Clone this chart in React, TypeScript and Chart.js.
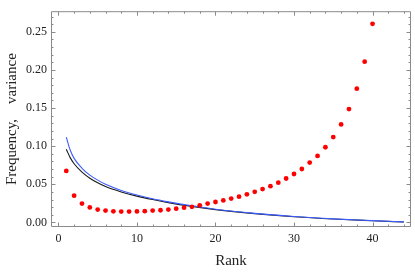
import { useEffect, useRef } from 'react';
import { Chart, registerables } from 'chart.js';

Chart.register(...registerables);

const ranks = [1, 2, 3, 4, 5, 6, 7, 8, 9, 10, 11, 12, 13, 14, 15, 16, 17, 18, 19, 20, 21, 22, 23, 24, 25, 26, 27, 28, 29, 30, 31, 32, 33, 34, 35, 36, 37, 38, 39, 40];
const varianceValues = [0.0676, 0.0351, 0.0247, 0.0197, 0.0168, 0.0155, 0.0145, 0.0143, 0.0143, 0.0144, 0.0147, 0.0155, 0.016, 0.0168, 0.018, 0.0193, 0.0205, 0.0225, 0.0247, 0.0268, 0.0288, 0.0313, 0.0338, 0.0368, 0.0401, 0.0438, 0.0476, 0.0522, 0.0576, 0.0635, 0.0701, 0.0785, 0.0873, 0.0986, 0.112, 0.1286, 0.1487, 0.1754, 0.2109, 0.2605];

const curveRanks = [1, 1.5, 2, 3, 4, 5, 6, 8, 10, 12, 14, 17, 20, 25, 30, 35, 40, 44];
const blackCurve = [0.096, 0.085, 0.077, 0.066, 0.058, 0.052, 0.047, 0.040, 0.0345, 0.030, 0.026, 0.021, 0.0168, 0.0115, 0.0075, 0.0045, 0.0022, 0.0005];
const blueCurve = [0.112, 0.095, 0.084, 0.071, 0.062, 0.0555, 0.050, 0.042, 0.036, 0.031, 0.027, 0.0218, 0.0173, 0.0119, 0.0078, 0.0047, 0.0024, 0.0007];

const xTicks = [0, 10, 20, 30, 40];
const xMinorTicks = [2, 4, 6, 8, 12, 14, 16, 18, 22, 24, 26, 28, 32, 34, 36, 38, 42, 44];
const yTicks = [0, 0.05, 0.1, 0.15, 0.2, 0.25];
const yMinorTicks = [0.01, 0.02, 0.03, 0.04, 0.06, 0.07, 0.08, 0.09, 0.11, 0.12, 0.13, 0.14, 0.16, 0.17, 0.18, 0.19, 0.21, 0.22, 0.23, 0.24, 0.26, 0.27];

const FONT = "'Liberation Serif', 'DejaVu Serif', serif";

const framePlugin = {
  id: 'mmaFrame',
  afterDatasetsDraw(chart: any) {
    const { ctx, chartArea, scales } = chart;
    const { left, right, top, bottom } = chartArea;
    const xs = scales.x;
    const ys = scales.y;
    ctx.save();
    ctx.strokeStyle = '#8a8a8a';
    ctx.lineWidth = 1;
    ctx.beginPath();
    ctx.rect(left + 0.5, top + 0.5, right - left - 1, bottom - top - 1);
    ctx.stroke();
    ctx.beginPath();
    const vt = (v: number, len: number) => {
      const p = Math.round(xs.getPixelForValue(v)) + 0.5;
      ctx.moveTo(p, bottom - 0.5);
      ctx.lineTo(p, bottom - 0.5 - len);
      ctx.moveTo(p, top + 0.5);
      ctx.lineTo(p, top + 0.5 + len);
    };
    const ht = (v: number, len: number) => {
      const p = Math.round(ys.getPixelForValue(v)) + 0.5;
      ctx.moveTo(left + 0.5, p);
      ctx.lineTo(left + 0.5 + len, p);
      ctx.moveTo(right - 0.5, p);
      ctx.lineTo(right - 0.5 - len, p);
    };
    xTicks.forEach((v) => vt(v, 4));
    xMinorTicks.forEach((v) => vt(v, 2));
    yTicks.forEach((v) => ht(v, 4));
    yMinorTicks.forEach((v) => ht(v, 2));
    ctx.stroke();
    ctx.restore();
  },
};

export default function App() {
  const ref = useRef<HTMLCanvasElement | null>(null);
  useEffect(() => {
    if (!ref.current) return;
    const chart = new Chart(ref.current, {
      type: 'scatter',
      data: {
        datasets: [
          {
            type: 'line',
            label: 'black',
            data: curveRanks.map((r, i) => ({ x: r, y: blackCurve[i] })),
            borderColor: '#1a1a1a',
            borderWidth: 1.1,
            pointRadius: 0,
            cubicInterpolationMode: 'monotone',
            fill: false,
            order: 2,
          },
          {
            type: 'line',
            label: 'blue',
            data: curveRanks.map((r, i) => ({ x: r, y: blueCurve[i] })),
            borderColor: '#3d5cff',
            borderWidth: 1.1,
            pointRadius: 0,
            cubicInterpolationMode: 'monotone',
            fill: false,
            order: 1,
          },
          {
            label: 'variance',
            data: ranks.map((r, i) => ({ x: r, y: varianceValues[i] })),
            backgroundColor: '#ff0000',
            borderWidth: 0,
            pointRadius: 2.4,
            order: 0,
          },
        ],
      } as any,
      options: {
        animation: false,
        responsive: false,
        events: [],
        layout: { padding: { top: 1, right: 0, left: 0, bottom: 0 } },
        plugins: { legend: { display: false }, tooltip: { enabled: false } },
        scales: {
          x: {
            type: 'linear',
            min: -0.945,
            max: 44.9,
            grid: { display: false, drawTicks: false },
            border: { display: false },
            afterBuildTicks: (s: any) => {
              s.ticks = xTicks.map((v) => ({ value: v }));
            },
            afterFit: (s: any) => {
              s.height = 45;
            },
            ticks: {
              color: '#222',
              font: { family: FONT, size: 12 },
              padding: 5,
              maxRotation: 0,
              callback: (v: any) => String(v),
            },
            title: {
              display: true,
              text: 'Rank',
              color: '#222',
              font: { family: FONT, size: 15 },
              padding: { top: 0, bottom: 2 },
            },
          },
          y: {
            type: 'linear',
            min: -0.006,
            max: 0.2771,
            grid: { display: false, drawTicks: false },
            border: { display: false },
            afterBuildTicks: (s: any) => {
              s.ticks = yTicks.map((v) => ({ value: v }));
            },
            afterFit: (s: any) => {
              s.width = 51;
            },
            ticks: {
              color: '#222',
              font: { family: FONT, size: 12 },
              padding: 4,
              callback: (v: any) => Number(v).toFixed(2),
            },
            title: {
              display: true,
              text: 'Frequency,    variance',
              color: '#222',
              font: { family: FONT, size: 15 },
              padding: { top: 3, bottom: 0 },
            },
          },
        },
      },
      plugins: [framePlugin],
    } as any);
    return () => chart.destroy();
  }, []);
  return (
    <div style={{ position: 'absolute', left: 0, top: 0, width: 415, height: 272, background: '#fff' }}>
      <canvas ref={ref} width={415} height={272} style={{ display: 'block' }} />
    </div>
  );
}
